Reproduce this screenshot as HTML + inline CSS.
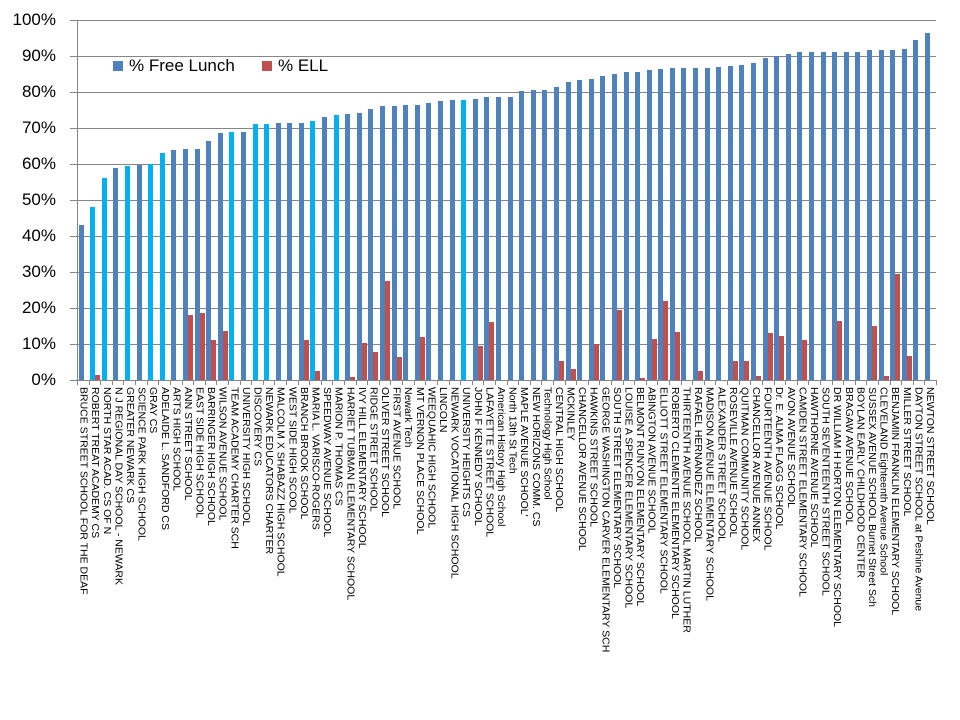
<!DOCTYPE html>
<html><head><meta charset="utf-8"><style>
body{margin:0;background:#fff;width:960px;height:720px;overflow:hidden;position:relative;font-family:"Liberation Sans",sans-serif}
.yl{position:absolute;right:904px;font-size:17px;color:#000;line-height:20px}
.grid{position:absolute;left:70px;width:866px;height:1px;background:#868686}
#bars{position:absolute;left:77px;top:20px;width:859px;height:360px;display:flex}
#bars div.c{flex:0 0 11.608px;position:relative;height:360px}
.b{position:absolute;bottom:0;width:5px}
#labels{position:absolute;left:77px;top:387px;width:859px;display:flex}
#labels div{flex:0 0 11.608px;writing-mode:vertical-rl;font-size:10.5px;line-height:11.6px;white-space:nowrap;color:#000}
</style></head><body>
<div class="yl" style="top:10px">100%</div>
<div class="yl" style="top:46px">90%</div>
<div class="yl" style="top:82px">80%</div>
<div class="yl" style="top:118px">70%</div>
<div class="yl" style="top:154px">60%</div>
<div class="yl" style="top:190px">50%</div>
<div class="yl" style="top:226px">40%</div>
<div class="yl" style="top:262px">30%</div>
<div class="yl" style="top:298px">20%</div>
<div class="yl" style="top:334px">10%</div>
<div class="yl" style="top:370px">0%</div>
<div class="grid" style="top:20px"></div><div class="grid" style="top:56px"></div><div class="grid" style="top:92px"></div><div class="grid" style="top:128px"></div><div class="grid" style="top:164px"></div><div class="grid" style="top:200px"></div><div class="grid" style="top:236px"></div><div class="grid" style="top:272px"></div><div class="grid" style="top:308px"></div><div class="grid" style="top:344px"></div>
<div style="position:absolute;left:77px;top:20px;width:1px;height:361px;background:#868686"></div>
<div style="position:absolute;left:70px;top:380px;width:866px;height:1px;background:#868686"></div>
<div id="ticks"></div>
<div id="bars"></div>
<div style="position:absolute;left:113px;top:61px;width:10px;height:10px;background:#4f81bd"></div>
<div style="position:absolute;left:129px;top:56px;font-size:17px">% Free Lunch</div>
<div style="position:absolute;left:262px;top:61px;width:10px;height:10px;background:#c0504d"></div>
<div style="position:absolute;left:278px;top:56px;font-size:17px">% ELL</div>
<div id="labels">
<div>BRUCE STREET SCHOOL FOR THE DEAF</div><div>ROBERT TREAT ACADEMY CS</div><div>NORTH STAR ACAD. CS OF N</div><div>N J REGIONAL DAY SCHOOL - NEWARK</div><div>GREATER NEWARK CS</div><div>SCIENCE PARK HIGH SCHOOL</div><div>GRAY CS</div><div>ADELAIDE L. SANDFORD CS</div><div>ARTS HIGH SCHOOL</div><div>ANN STREET SCHOOL</div><div>EAST SIDE HIGH SCHOOL</div><div>BARRINGER HIGH SCHOOL</div><div>WILSON AVENUE SCHOOL</div><div>TEAM ACADEMY CHARTER SCH</div><div>UNIVERSITY HIGH SCHOOL</div><div>DISCOVERY CS</div><div>NEWARK EDUCATORS CHARTER</div><div>MALCOLM X SHABAZZ HIGH SCHOOL</div><div>WEST SIDE HIGH SCOOL</div><div>BRANCH BROOK SCHOOL</div><div>MARIA L. VARISCO-ROGERS</div><div>SPEEDWAY AVENUE SCHOOL</div><div>MARION P. THOMAS CS</div><div>HARRIET TUBMAN ELEMENTARY SCHOOL</div><div>IVY HILL ELEMENTARY SCHOOL</div><div>RIDGE STREET SCHOOL</div><div>OLIVER STREET SCHOOL</div><div>FIRST AVENUE SCHOOL</div><div>Newark Tech</div><div>MT VERNON PLACE SCHOOL</div><div>WEEQUAHIC HIGH SCHOOL</div><div>LINCOLN</div><div>NEWARK VOCATIONAL HIGH SCHOOL</div><div>UNIVERSITY HEIGHTS CS</div><div>JOHN F KENNEDY SCHOOL</div><div>LAFAYETTE STREET SCHOOL</div><div>American History High School</div><div>North 13th St Tech</div><div>MAPLE AVENUE SCHOOL'</div><div>NEW HORIZONS COMM. CS</div><div>Technology High School</div><div>CENTRAL HIGH SCHOOL</div><div>MCKINLEY</div><div>CHANCELLOR AVENUE SCHOOL</div><div>HAWKINS STREET SCHOOL</div><div>GEORGE WASHINGTON CARVER ELEMENTARY SCH</div><div>SOUTH STREET ELEMENTARY SCHOOL</div><div>LOUISE A SPENCER ELEMENTARY SCHOOL</div><div>BELMONT RUNYON ELEMENTARY SCHOOL</div><div>ABINGTON AVENUE SCHOOL</div><div>ELLIOTT STREET ELEMENTARY SCHOOL</div><div>ROBERTO CLEMENTE ELEMENTARY SCHOOL</div><div>THIRTEENTH AVENUE SCHOOL MARTIN LUTHER</div><div>RAFAEL HERNANDEZ SCHOOL</div><div>MADISON AVENUE ELEMENTARY SCHOOL</div><div>ALEXANDER STREET SCHOOL</div><div>ROSEVILLE AVENUE SCHOOL</div><div>QUITMAN COMMUNITY SCHOOL</div><div>CHANCELLOR AVENUE ANNEX</div><div>FOURTEENTH AVENUE SCHOOL</div><div>Dr. E. ALMA FLAGG SCHOOL</div><div>AVON AVENUE SCHOOL</div><div>CAMDEN STREET ELEMENTARY SCHOOL</div><div>HAWTHORNE AVENUE SCHOOL</div><div>SOUTH SEVENTEENTH STREET SCHOOL</div><div>DR WILLIAM H HORTON ELEMENTARY SCHOOL</div><div>BRAGAW AVENUE SCHOOL</div><div>BOYLAN EARLY CHILDHOOD CENTER</div><div>SUSSEX AVENUE SCHOOL Burnet Street  Sch</div><div>CLEVELAND Eighteenth Avenue School</div><div>BENJAMIN FRANKLIN ELEMENTARY SCHOOL</div><div>MILLER STREET SCHOOL</div><div>DAYTON STREET SCHOOL at Peshine Avenue</div><div>NEWTON STREET SCHOOL</div>
</div>
<script>
var fl=[43,48,56,59,59.5,59.6,60,63,64,64.3,64.3,66.3,68.5,68.8,69,71,71.2,71.5,71.5,71.5,72,73,73.5,74,74.3,75.3,76,76,76.3,76.3,77,77.5,77.8,77.8,78,78.5,78.5,78.5,80.2,80.5,80.5,81.5,82.8,83.2,83.5,84.5,85,85.5,85.5,86,86.5,86.7,86.8,86.8,86.8,87,87.3,87.5,88,89.5,90,90.5,91,91,91,91,91,91,91.8,91.8,91.8,92,94.5,96.5];
var light=[2,3,5,7,8,14,16,17,21,23,34];
var ell={2:1.3,10:18,11:18.5,12:11,13:13.5,20:11,21:2.5,24:0.7,25:10.3,26:7.8,27:27.5,28:6.3,30:12,35:9.5,36:16,42:5.2,43:3,45:10,47:19.5,49:0.6,50:11.5,51:22,52:13.3,54:2.6,57:5.4,58:5.4,59:1.2,60:13,61:12.2,63:11,66:16.5,69:15,70:1,71:29.5,72:6.8};
var h='',t='';
for(var i=1;i<=74;i++){
 var c=light.indexOf(i)>=0?'#00b0f0':'#4f81bd';
 h+='<div class="c"><div class="b" style="left:1.6px;height:'+(fl[i-1]*3.6)+'px;background:'+c+'"></div>'+(ell[i]?'<div class="b" style="left:6.6px;height:'+(ell[i]*3.6)+'px;background:#c0504d"></div>':'')+'</div>';
 t+='<div style="position:absolute;left:'+(77+11.608*i).toFixed(1)+'px;top:380px;width:1px;height:5px;background:#868686"></div>';
}
document.getElementById('bars').innerHTML=h;
document.getElementById('ticks').innerHTML='<div style="position:absolute;left:77px;top:380px;width:1px;height:5px;background:#868686"></div>'+t;
</script>
</body></html>
